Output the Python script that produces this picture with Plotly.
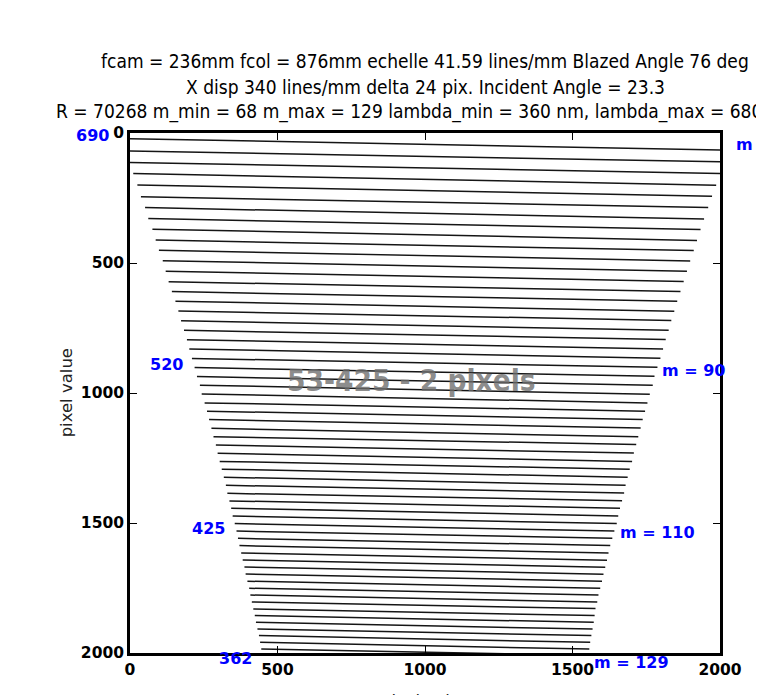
import plotly.graph_objects as go

# Echelle orders (m) and their traced end points on the detector (pixels)
orders = list(range(68, 130))
x_left = [-31, -16, -2, 11, 25, 37, 51, 62, 76, 87, 98, 111, 121, 131, 142, 154, 164, 173, 183, 193,
          201, 210, 219, 227, 237, 243, 253, 261, 268, 276, 283, 291, 297, 304, 311, 318, 325, 330, 337, 343,
          348, 355, 361, 366, 371, 377, 382, 388, 392, 398, 404, 408, 413, 418, 423, 427, 432, 437, 441, 445,
          450, 454]
x_right = [2027, 2014, 2005, 1987, 1973, 1960, 1946, 1934, 1922, 1911, 1899, 1888, 1877, 1866, 1855, 1845,
           1835, 1826, 1816, 1807, 1798, 1788, 1778, 1772, 1762, 1754, 1746, 1738, 1731, 1723, 1716, 1708,
           1702, 1694, 1687, 1680, 1675, 1668, 1661, 1655, 1650, 1642, 1635, 1628, 1622, 1617, 1611, 1605,
           1600, 1594, 1588, 1584, 1578, 1575, 1572, 1568, 1564, 1560, 1557, 1553, 1550, 1547]
y_left = [21, 69, 113, 156, 200, 245, 287, 329, 370, 412, 451, 491, 532, 572, 610, 647, 685, 722, 759, 795,
          831, 867, 902, 937, 970, 1004, 1038, 1070, 1102, 1136, 1168, 1200, 1232, 1263, 1293, 1324, 1355,
          1386, 1415, 1443, 1473, 1502, 1531, 1559, 1587, 1615, 1642, 1669, 1696, 1724, 1751, 1777, 1804,
          1831, 1856, 1882, 1908, 1933, 1959, 1985, 2010, 2034]
y_right = [66, 111, 156, 201, 243, 287, 331, 371, 413, 452, 492, 532, 571, 610, 647, 686, 721, 759, 794, 831,
           866, 901, 936, 970, 1005, 1038, 1070, 1102, 1135, 1168, 1198, 1231, 1263, 1293, 1324, 1355, 1385,
           1414, 1443, 1473, 1502, 1531, 1559, 1587, 1615, 1643, 1670, 1697, 1724, 1751, 1777, 1804, 1829,
           1856, 1882, 1908, 1933, 1959, 1985, 2009, 2034, 2059]

label_orders = [68, 90, 110, 129]
label_wavelengths = [690, 520, 425, 362]

title_lines = [
    "fcam = 236mm fcol = 876mm echelle 41.59 lines/mm Blazed Angle 76 deg",
    "X disp 340 lines/mm delta 24 pix. Incident Angle = 23.3",
    "R = 70268 m_min = 68 m_max = 129 lambda_min = 360 nm, lambda_max = 680 nm",
]
center_text = "53-425 - 2 pixels"
axis_label = "pixel value"

XR = (0, 2000)
YR = (0, 2000)

xs, ys = [], []
for xl, xr, yl, yr in zip(x_left, x_right, y_left, y_right):
    xs += [xl, xr, None]
    ys += [yl, yr, None]

fig = go.Figure()
fig.add_trace(go.Scatter(x=xs, y=ys, mode="lines",
                         line=dict(color="#151515", width=1.5),
                         hoverinfo="skip", showlegend=False))

def px_(x):
    return (x - XR[0]) / (XR[1] - XR[0])

def py_(y):
    return 1 - (y - YR[0]) / (YR[1] - YR[0])

ann = []
blue_font = dict(family="DejaVu Sans", size=16, color="#0000ff", weight="bold")
for m, wl in zip(label_orders, label_wavelengths):
    i = orders.index(m)
    ann.append(dict(x=px_(x_left[i] - 95), y=py_(y_left[i]), xref="paper", yref="paper",
                    text=f"<b>{wl}</b>", showarrow=False, xanchor="center", yanchor="middle",
                    yshift=3, font=blue_font))
    ann.append(dict(x=px_(x_right[i] + 20), y=py_(y_right[i]), xref="paper", yref="paper",
                    text=f"<b>m = {m}</b>", showarrow=False, xanchor="left", yanchor="middle",
                    yshift=6, font=blue_font))

title_font = dict(family="DejaVu Sans Condensed, Liberation Sans Narrow, DejaVu Sans", size=19, color="black")
for t, yp in zip(title_lines, [1.138, 1.088, 1.041]):
    ann.append(dict(x=0.5, y=yp, xref="paper", yref="paper", text=t, showarrow=False,
                    xanchor="center", yanchor="middle", font=title_font))

ann.append(dict(x=953, y=955, xref="x", yref="y", text=f"<b>{center_text}</b>", showarrow=False,
                xanchor="center", yanchor="middle",
                font=dict(family="DejaVu Sans Condensed, Liberation Sans Narrow, DejaVu Sans", size=29.5,
                          color="rgba(110,110,110,0.8)")))

label_font = dict(family="DejaVu Sans", size=16.5, color="#222222")
ann.append(dict(x=0.5, y=-0.091, xref="paper", yref="paper", text=axis_label, showarrow=False,
                xanchor="center", yanchor="middle", font=label_font))
ann.append(dict(x=-0.107, y=0.501, xref="paper", yref="paper", text=axis_label, showarrow=False,
                textangle=-90, xanchor="center", yanchor="middle", font=label_font))

tickfont = dict(family="DejaVu Sans", size=15.5, color="black", weight="bold")
axis_common = dict(showgrid=False, zeroline=False, showline=True, linecolor="black", linewidth=2.8,
                   mirror="ticks", ticks="inside", ticklen=7, tickwidth=1, tickcolor="black",
                   tickfont=tickfont, tickmode="array", tickvals=[0, 500, 1000, 1500, 2000],
                   ticktext=["<b>0</b>", "<b>500</b>", "<b>1000</b>", "<b>1500</b>", "<b>2000</b>"])

fig.update_layout(
    width=764, height=695,
    margin=dict(l=122, r=52, t=125, b=50, autoexpand=False),
    paper_bgcolor="white", plot_bgcolor="white",
    xaxis=dict(range=list(XR), **axis_common),
    yaxis=dict(range=[YR[1], YR[0]], **axis_common),
    annotations=ann,
    showlegend=False,
)

fig.write_html("out.html")
